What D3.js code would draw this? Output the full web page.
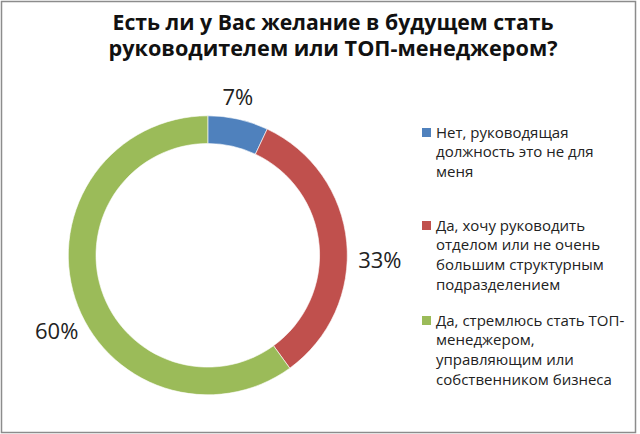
<!DOCTYPE html>
<html>
<head>
<meta charset="utf-8">
<script src="https://cdn.jsdelivr.net/npm/d3@7"></script>
<style>
  html, body { margin: 0; padding: 0; background: #fff; }
  svg { display: block; }
</style>
</head>
<body>
<svg id="chart" width="640" height="434"></svg>
<script>
// ---- data ----
const titleLines = ["Есть ли у Вас желание в будущем стать", "руководителем или ТОП-менеджером?"];
const categories = [
  "Нет, руководящая должность это не для меня",
  "Да, хочу руководить отделом или не очень большим структурным подразделением",
  "Да, стремлюсь стать ТОП-менеджером, управляющим или собственником бизнеса"
];
const legendLines = [
  ["Нет, руководящая", "должность это не для", "меня"],
  ["Да, хочу руководить", "отделом или не очень", "большим структурным", "подразделением"],
  ["Да, стремлюсь стать ТОП-", "менеджером,", "управляющим или", "собственником бизнеса"]
];
const values = [7, 33, 60];
const valueLabels = ["7%", "33%", "60%"];
const colors = ["#4F81BD", "#C0504D", "#9BBB59"];

// ---- layout ----
const W = 640, H = 434;
const cx = 207.8, cy = 255.3, rOuter = 139.5, rInner = 111.8;
const labelPolar = [ {a: 10.7, r: 161.6}, {a: 91.6, r: 172.1}, {a: 243.4, r: 169} ];
const titleLayout = { x: 333, baselines: [29.5, 55.5], widths: [441, 449], size: 21 };
const legendLayout = { keyX: 422, textX: 436, starts: [137.5, 230.5, 325.5], step: 19.8, key: 9, size: 15 };
const legendTargetWidths = [[131, 158, 37], [147, 163, 167, 126], [189, 101, 137, 177]];

const svg = d3.select("#chart");
svg.append("rect").attr("x", 0).attr("y", 0).attr("width", W).attr("height", H).attr("fill", "#fff");
svg.append("rect").attr("x", 1.5).attr("y", 1.5).attr("width", 634).attr("height", 431)
  .attr("fill", "none").attr("stroke", "#8c8c8c").attr("stroke-width", 1.5);

// title
const title = svg.append("g");
titleLines.forEach((t, i) => {
  title.append("text")
    .attr("x", titleLayout.x).attr("y", titleLayout.baselines[i])
    .attr("text-anchor", "middle")
    .attr("font-family", "'Open Sans', 'Noto Sans', sans-serif")
    .attr("font-weight", "bold")
    .attr("font-size", titleLayout.size)
    .attr("fill", "#111")
    .attr("textLength", titleLayout.widths[i])
    .attr("lengthAdjust", "spacingAndGlyphs")
    .text(t);
});

// donut
const pie = d3.pie().sort(null).value(d => d);
const arcs = pie(values);
const arc = d3.arc().innerRadius(rInner).outerRadius(rOuter);
const g = svg.append("g").attr("transform", `translate(${cx},${cy})`);
g.selectAll("path").data(arcs).join("path")
  .attr("d", arc)
  .attr("fill", (d, i) => colors[i])
  .attr("stroke", "#fff")
  .attr("stroke-width", 0.6);

// value labels
const toRad = Math.PI / 180;
g.selectAll("text.val").data(arcs).join("text")
  .attr("class", "val")
  .attr("x", (d, i) => labelPolar[i].r * Math.sin(labelPolar[i].a * toRad))
  .attr("y", (d, i) => -labelPolar[i].r * Math.cos(labelPolar[i].a * toRad) + 8)
  .attr("text-anchor", "middle")
  .attr("font-family", "'Open Sans', 'Noto Sans', sans-serif")
  .attr("font-size", 22)
  .attr("fill", "#222")
  .text((d, i) => valueLabels[i]);

// legend
const lg = svg.append("g");
categories.forEach((c, i) => {
  const y0 = legendLayout.starts[i];
  lg.append("rect")
    .attr("x", legendLayout.keyX).attr("y", y0 - legendLayout.key - 0.5)
    .attr("width", legendLayout.key).attr("height", legendLayout.key)
    .attr("fill", colors[i]);
  legendLines[i].forEach((line, j) => {
    lg.append("text")
      .attr("class", "leg")
      .attr("data-i", i).attr("data-j", j)
      .attr("x", legendLayout.textX).attr("y", y0 + j * legendLayout.step)
      .attr("font-family", "'Open Sans', 'Noto Sans', sans-serif")
      .attr("font-size", legendLayout.size)
      .attr("fill", "#222")
      .text(line);
  });
});
// uniform horizontal fit of legend text to reference widths
const legNodes = lg.selectAll("text.leg").nodes();
let natural = 0, target = 0;
legNodes.forEach(n => {
  natural += n.getComputedTextLength();
  target += legendTargetWidths[+n.getAttribute("data-i")][+n.getAttribute("data-j")];
});
const k = target / natural;
legNodes.forEach(n => {
  n.setAttribute("textLength", (n.getComputedTextLength() * k).toFixed(1));
  n.setAttribute("lengthAdjust", "spacingAndGlyphs");
});
</script>
</body>
</html>
